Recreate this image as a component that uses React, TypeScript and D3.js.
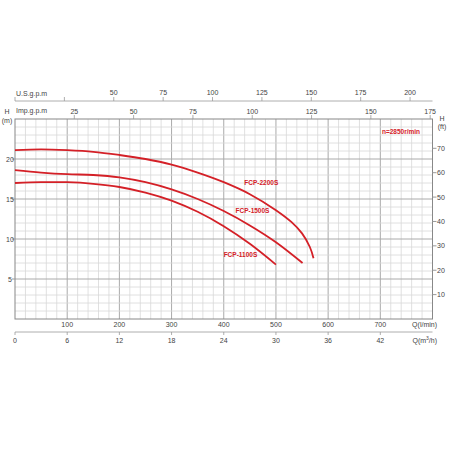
// Pump performance curves — FCP series, H/Q chart with several unit axes
import React, { useEffect, useRef } from 'react';
import * as d3 from 'd3';

// Flow in l/min, head in m
const q2200 = [0, 50, 100, 150, 200, 250, 300, 350, 400, 450, 500, 530, 550, 565, 572];
const h2200 = [21.1, 21.2, 21.1, 20.9, 20.5, 20.0, 19.3, 18.3, 17.1, 15.6, 13.6, 12.1, 10.7, 9.0, 7.6];

const q1500 = [0, 50, 100, 150, 200, 250, 300, 350, 400, 450, 500, 551];
const h1500 = [18.6, 18.3, 18.1, 18.0, 17.7, 17.1, 16.2, 15.0, 13.5, 11.7, 9.6, 7.0];

const q1100 = [0, 50, 100, 150, 200, 250, 300, 350, 400, 450, 500];
const h1100 = [17.0, 17.1, 17.1, 16.9, 16.5, 15.8, 14.8, 13.4, 11.6, 9.4, 6.8];

const seriesNames = ['FCP-2200S', 'FCP-1500S', 'FCP-1100S'];

const lminTicks = [100, 200, 300, 400, 500, 600, 700];
const m3hTicks = [0, 6, 12, 18, 24, 30, 36, 42];
const usTicks = [0, 25, 50, 75, 100, 125, 150, 175, 200];
const usLabels = [50, 75, 100, 125, 150, 175, 200];
const impTicks = [25, 50, 75, 100, 125, 150, 175];
const mTicks = [5, 10, 15, 20];
const ftTicks = [10, 20, 30, 40, 50, 60, 70];

const LPM_PER_US = 3.785;
const LPM_PER_IMP = 4.546;
const FT_PER_M = 3.2808;

const App: React.FC = () => {
  const svgRef = useRef<SVGSVGElement>(null);

  useEffect(() => {
    if (!svgRef.current) return;
    const svg = d3.select(svgRef.current);
    svg.selectAll('*').remove();

    const left = 15;
    const right = 432.5;
    const top = 119;
    const bottom = 319;

    const x = d3.scaleLinear().domain([0, 800]).range([left, right]);
    const y = d3.scaleLinear().domain([0, 25]).range([bottom, top]);
    const font = 'Arial, "Liberation Sans", sans-serif';
    const textCol = '#444';

    // Сетка
    const grid = svg.append('g');
    grid.selectAll('line.vx')
      .data(d3.range(20, 800, 20))
      .enter()
      .append('line')
      .attr('x1', (d) => x(d))
      .attr('x2', (d) => x(d))
      .attr('y1', top)
      .attr('y2', bottom)
      .attr('stroke', (d) => (d % 100 === 0 ? '#aaa' : '#d8d8d8'))
      .attr('stroke-width', (d) => (d % 100 === 0 ? 1 : 0.8));
    grid.selectAll('line.hy')
      .data(d3.range(1, 25, 1))
      .enter()
      .append('line')
      .attr('x1', left)
      .attr('x2', right)
      .attr('y1', (d) => y(d))
      .attr('y2', (d) => y(d))
      .attr('stroke', (d) => (d % 5 === 0 ? '#aaa' : '#d8d8d8'))
      .attr('stroke-width', (d) => (d % 5 === 0 ? 1 : 0.8));

    svg.append('rect')
      .attr('x', left)
      .attr('y', top)
      .attr('width', right - left)
      .attr('height', bottom - top)
      .attr('fill', 'none')
      .attr('stroke', '#888')
      .attr('stroke-width', 1);

    const txt = (g: d3.Selection<SVGGElement, unknown, null, undefined>) =>
      g.attr('font-family', font).attr('font-size', 7).attr('fill', textCol);

    // Ось Q l/min
    const gl = svg.append('g').call(txt);
    gl.selectAll('text')
      .data(lminTicks)
      .enter()
      .append('text')
      .attr('x', (d) => x(d))
      .attr('y', 327)
      .attr('text-anchor', 'middle')
      .text((d) => d);
    gl.append('text').attr('x', 437).attr('y', 327).attr('text-anchor', 'end').text('Q(l/min)');

    // Ось Q m3/h
    const xm = d3.scaleLinear().domain([0, 48]).range([left, right]);
    const gm = svg.append('g').call(txt);
    gm.append('line').attr('x1', left).attr('x2', right).attr('y1', 332).attr('y2', 332)
      .attr('stroke', '#999').attr('stroke-width', 0.8);
    gm.selectAll('line.t')
      .data(m3hTicks)
      .enter()
      .append('line')
      .attr('x1', (d) => xm(d))
      .attr('x2', (d) => xm(d))
      .attr('y1', 332)
      .attr('y2', 335)
      .attr('stroke', '#999')
      .attr('stroke-width', 0.8);
    gm.selectAll('text')
      .data(m3hTicks)
      .enter()
      .append('text')
      .attr('x', (d) => xm(d))
      .attr('y', 343)
      .attr('text-anchor', 'middle')
      .text((d) => d);
    const qm = gm.append('text').attr('x', 437).attr('y', 343).attr('text-anchor', 'end');
    qm.append('tspan').text('Q(m');
    qm.append('tspan').attr('font-size', 5).attr('dy', -3).text('3');
    qm.append('tspan').attr('dy', 3).text('/h)');

    // Ось U.S.g.p.m
    const gu = svg.append('g').call(txt);
    gu.append('line').attr('x1', left).attr('x2', right).attr('y1', 101).attr('y2', 101)
      .attr('stroke', '#999').attr('stroke-width', 0.8);
    gu.selectAll('line.t')
      .data(usTicks)
      .enter()
      .append('line')
      .attr('x1', (d) => x(d * LPM_PER_US))
      .attr('x2', (d) => x(d * LPM_PER_US))
      .attr('y1', 101)
      .attr('y2', 97)
      .attr('stroke', '#999')
      .attr('stroke-width', 0.8);
    gu.selectAll('text')
      .data(usLabels)
      .enter()
      .append('text')
      .attr('x', (d) => x(d * LPM_PER_US))
      .attr('y', 95)
      .attr('text-anchor', 'middle')
      .text((d) => d);
    gu.append('text').attr('x', 16).attr('y', 96).text('U.S.g.p.m');

    // Ось Imp.g.p.m
    const gi = svg.append('g').call(txt);
    gi.selectAll('line.t')
      .data(impTicks)
      .enter()
      .append('line')
      .attr('x1', (d) => x(d * LPM_PER_IMP))
      .attr('x2', (d) => x(d * LPM_PER_IMP))
      .attr('y1', top)
      .attr('y2', top - 4)
      .attr('stroke', '#999')
      .attr('stroke-width', 0.8);
    gi.selectAll('text')
      .data(impTicks)
      .enter()
      .append('text')
      .attr('x', (d) => x(d * LPM_PER_IMP))
      .attr('y', 114)
      .attr('text-anchor', 'middle')
      .text((d) => d);
    gi.append('text').attr('x', 16).attr('y', 113).text('Imp.g.p.m');

    // Ось H (m)
    const gh = svg.append('g').call(txt);
    gh.selectAll('line.t')
      .data(mTicks)
      .enter()
      .append('line')
      .attr('x1', left - 3)
      .attr('x2', left)
      .attr('y1', (d) => y(d))
      .attr('y2', (d) => y(d))
      .attr('stroke', '#999');
    gh.selectAll('text')
      .data(mTicks)
      .enter()
      .append('text')
      .attr('x', 10)
      .attr('y', (d) => y(d) + 2.5)
      .attr('text-anchor', 'middle')
      .text((d) => d);
    gh.append('text').attr('x', 7).attr('y', 114).attr('text-anchor', 'middle').text('H');
    gh.append('text').attr('x', 7).attr('y', 123).attr('text-anchor', 'middle').text('(m)');

    // Ось H (ft)
    const gf = svg.append('g').call(txt);
    gf.selectAll('line.t')
      .data(ftTicks)
      .enter()
      .append('line')
      .attr('x1', right)
      .attr('x2', right + 4)
      .attr('y1', (d) => y(d / FT_PER_M))
      .attr('y2', (d) => y(d / FT_PER_M))
      .attr('stroke', '#999');
    gf.selectAll('text')
      .data(ftTicks)
      .enter()
      .append('text')
      .attr('x', 441)
      .attr('y', (d) => y(d / FT_PER_M) + 2.5)
      .attr('text-anchor', 'middle')
      .text((d) => d);
    gf.append('text').attr('x', 442).attr('y', 121).attr('text-anchor', 'middle').text('H');
    gf.append('text').attr('x', 442).attr('y', 129).attr('text-anchor', 'middle').text('(ft)');

    // Кривые
    const red = '#d42027';
    const line = d3.line<[number, number]>()
      .x((d) => x(d[0]))
      .y((d) => y(d[1]))
      .curve(d3.curveCatmullRom.alpha(0.5));
    const curves: [number, number][][] = [
      q2200.map((q, i) => [q, h2200[i]]),
      q1500.map((q, i) => [q, h1500[i]]),
      q1100.map((q, i) => [q, h1100[i]]),
    ];
    svg.append('g')
      .selectAll('path')
      .data(curves)
      .enter()
      .append('path')
      .attr('d', (d) => line(d))
      .attr('fill', 'none')
      .attr('stroke', red)
      .attr('stroke-width', 1.8);

    // Подписи кривых
    const labelPos = [
      [472, 16.8],
      [455, 13.2],
      [432, 7.7],
    ];
    svg.append('g')
      .selectAll('text')
      .data(seriesNames)
      .enter()
      .append('text')
      .attr('x', (_, i) => x(labelPos[i][0]))
      .attr('y', (_, i) => y(labelPos[i][1]))
      .attr('text-anchor', 'middle')
      .attr('font-family', font)
      .attr('font-size', 6.5)
      .attr('font-weight', 'bold')
      .attr('fill', red)
      .text((d) => d);

    svg.append('text')
      .attr('x', 401)
      .attr('y', 134)
      .attr('text-anchor', 'middle')
      .attr('font-family', font)
      .attr('font-size', 6.5)
      .attr('font-weight', 'bold')
      .attr('fill', red)
      .text('n=2850r/min');
  }, []);

  return (
    <div style={{ position: 'absolute', left: 0, top: 0, width: 450, height: 450, background: '#fff' }}>
      <svg ref={svgRef} width={450} height={450} />
    </div>
  );
};

export default App;
